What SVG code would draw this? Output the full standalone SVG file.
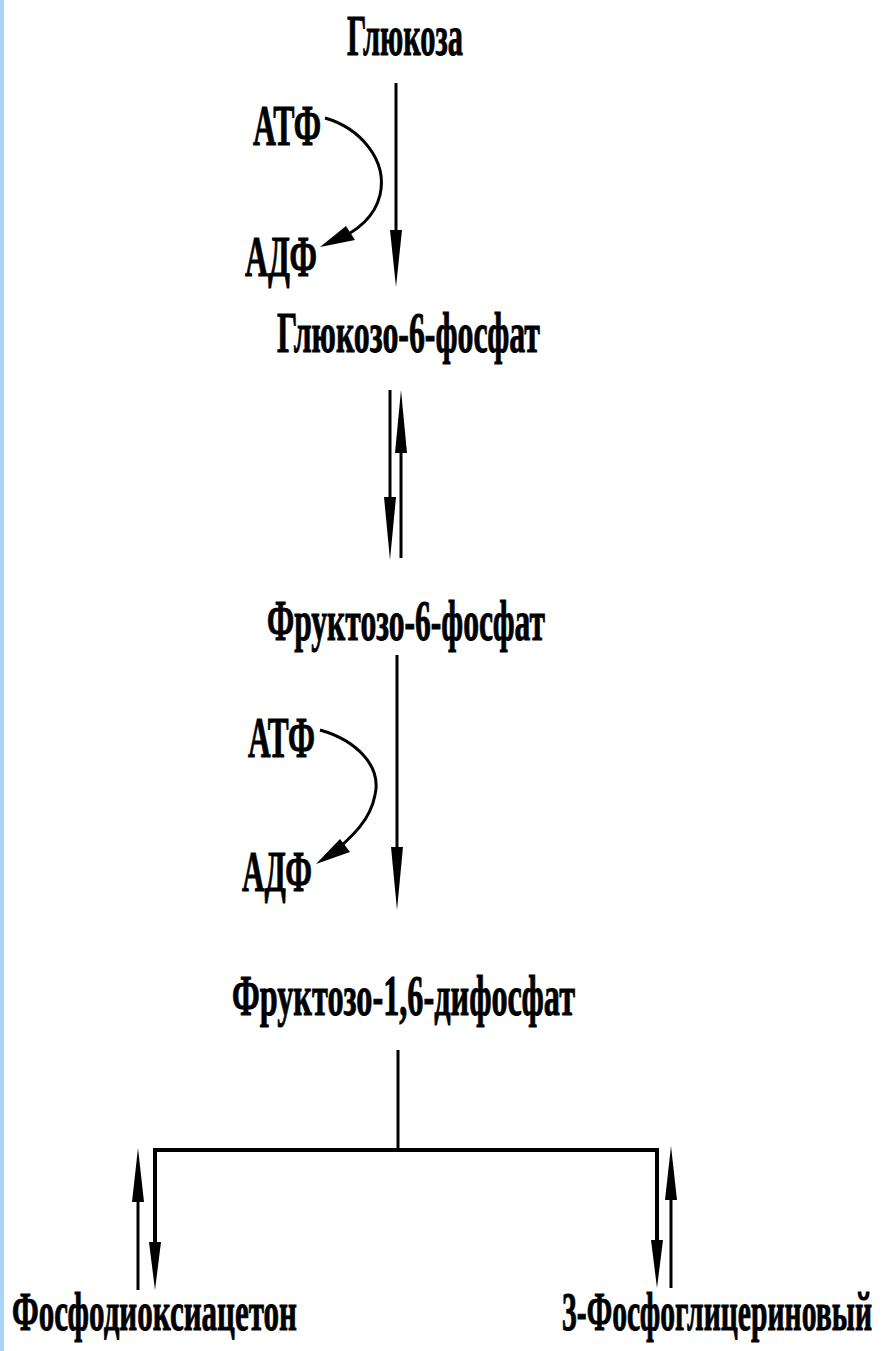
<svg xmlns="http://www.w3.org/2000/svg" width="892" height="1351" viewBox="0 0 892 1351">
<style>
.t{font-family:"Liberation Serif","Times New Roman",serif;font-weight:bold;font-size:58px;fill:#000;stroke:#000;stroke-width:1}
.b{font-size:55px}
.ln{stroke:#000;stroke-width:3;fill:none}
.hd{fill:#000}
</style>
<rect x="0" y="0" width="892" height="1351" fill="#fff"/>
<rect x="0" y="0" width="4" height="1351" fill="#a8d5f7"/>
<g id="connectors">
<line class="ln" x1="396" y1="83" x2="396" y2="240"/>
<polygon class="hd" points="390,230 402,230 396,287"/>
<path class="ln" d="M325,118 C360,128 388,160 380,195 C374,220 352,234 332,242"/>
<polygon class="hd" points="320,247 346,226 355,240"/>
<line class="ln" x1="390" y1="390" x2="390" y2="510"/>
<polygon class="hd" points="384,497 396,497 390,560"/>
<line class="ln" x1="401" y1="440" x2="401" y2="558"/>
<polygon class="hd" points="395,453 407,453 401,390"/>
<line class="ln" x1="397" y1="655" x2="397" y2="860"/>
<polygon class="hd" points="391,847 403,847 397,910"/>
<path class="ln" d="M320,730 C355,740 382,765 375,795 C370,822 350,838 328,858"/>
<polygon class="hd" points="316,864 340,839 350,852"/>
<line class="ln" x1="398" y1="1050" x2="398" y2="1150"/>
<polyline points="155,1255 155,1150 657,1150 657,1255" fill="none" stroke="#000" stroke-width="4"/>
<polygon class="hd" points="149,1242 161,1242 155,1290"/>
<line class="ln" x1="138" y1="1195" x2="138" y2="1290"/>
<polygon class="hd" points="132,1202 144,1202 138,1148"/>
<polygon class="hd" points="651,1240 663,1240 657,1288"/>
<line class="ln" x1="671" y1="1195" x2="671" y2="1288"/>
<polygon class="hd" points="665,1200 677,1200 671,1146"/>
</g>
<g id="glucose"><text class="t" x="347" y="55" textLength="116" lengthAdjust="spacingAndGlyphs">Глюкоза</text></g>
<g id="atp1"><text class="t" x="253" y="145" textLength="68" lengthAdjust="spacingAndGlyphs">АТФ</text></g>
<g id="adp1"><text class="t" x="245" y="276" textLength="72" lengthAdjust="spacingAndGlyphs">АДФ</text></g>
<g id="g6p"><text class="t" x="277" y="352" textLength="263" lengthAdjust="spacingAndGlyphs">Глюкозо-6-фосфат</text></g>
<g id="f6p"><text class="t" x="267" y="640" textLength="278" lengthAdjust="spacingAndGlyphs">Фруктозо-6-фосфат</text></g>
<g id="atp2"><text class="t" x="248" y="757" textLength="67" lengthAdjust="spacingAndGlyphs">АТФ</text></g>
<g id="adp2"><text class="t" x="242" y="891" textLength="70" lengthAdjust="spacingAndGlyphs">АДФ</text></g>
<g id="f16dp"><text class="t" x="232" y="1015" textLength="343" lengthAdjust="spacingAndGlyphs">Фруктозо-1,6-дифосфат</text></g>
<g id="dhap"><text class="t b" x="12" y="1330" textLength="285" lengthAdjust="spacingAndGlyphs">Фосфодиоксиацетон</text></g>
<g id="pga"><text class="t b" x="562" y="1330" textLength="310" lengthAdjust="spacingAndGlyphs">3-Фосфоглицериновый</text></g>
</svg>
